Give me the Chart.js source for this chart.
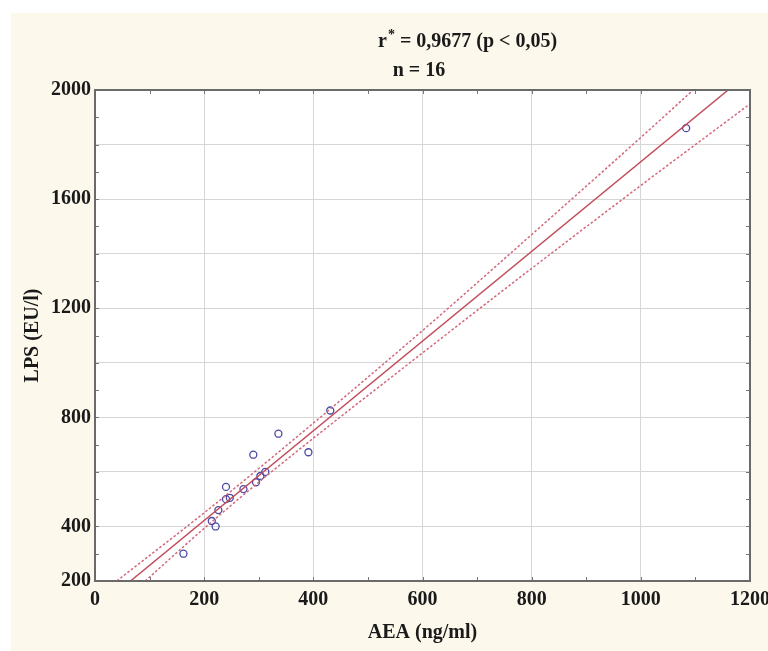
<!DOCTYPE html>
<html>
<head>
<meta charset="utf-8">
<script src="https://cdn.jsdelivr.net/npm/chart.js@4/dist/chart.umd.min.js"></script>
<style>
  html, body { margin: 0; padding: 0; background: #ffffff; }
  #wrap { width: 768px; height: 651px; }
</style>
</head>
<body>
<div id="wrap"><canvas id="chart" width="768" height="651"></canvas></div>
<script>
// values
const aea = [162, 214, 221, 226, 240, 240, 247, 272, 290, 295, 303, 312, 336, 391, 431, 1083];
const lps = [300, 420, 400, 460, 545, 500, 505, 537, 663, 562, 585, 600, 740, 672, 825, 1860];

// regression line (end points where it meets the frame)
const fitX = [65, 1160];
const fitY = [200, 2000];

// dotted confidence band, read at a few places along each curve
const upperX = [40, 200, 330, 600, 800, 1000, 1096];
const upperY = [200, 450, 662, 1118, 1470, 1826, 2000];
const lowerX = [92, 200, 330, 600, 800, 1000, 1200];
const lowerY = [200, 393, 611, 1036, 1346, 1650, 1949];

const xLabels = [0, 200, 400, 600, 800, 1000, 1200];
const yLabels = [200, 400, 800, 1200, 1600, 2000];

const FONT = "'Liberation Serif', 'DejaVu Serif', serif";

const toPoints = (xs, ys) => xs.map((x, i) => ({ x: x, y: ys[i] }));

const paperBg = {
    id: "paperBg",
    beforeDraw(chart) {
        const { ctx, chartArea: a } = chart;
        ctx.save();
        ctx.fillStyle = "#ffffff";
        ctx.fillRect(0, 0, chart.width, chart.height);
        ctx.fillStyle = "#fcf8ec";
        ctx.fillRect(11, 13, chart.width - 11, chart.height - 13);
        ctx.fillStyle = "#ffffff";
        ctx.fillRect(a.left, a.top, a.right - a.left, a.bottom - a.top);
        ctx.restore();
    },
};

const frame = {
    id: "frame",
    afterDraw(chart) {
        const { ctx, chartArea: a, scales } = chart;
        ctx.save();
        // little inward ticks every 100
        ctx.strokeStyle = "#777777";
        ctx.lineWidth = 1;
        ctx.beginPath();
        scales.x.ticks.forEach(t => {
            const px = Math.round(scales.x.getPixelForValue(t.value)) + 0.5;
            ctx.moveTo(px, a.bottom); ctx.lineTo(px, a.bottom - 4);
            ctx.moveTo(px, a.top); ctx.lineTo(px, a.top + 4);
        });
        scales.y.ticks.forEach(t => {
            const py = Math.round(scales.y.getPixelForValue(t.value)) + 0.5;
            ctx.moveTo(a.left, py); ctx.lineTo(a.left + 4, py);
            ctx.moveTo(a.right, py); ctx.lineTo(a.right - 4, py);
        });
        ctx.stroke();
        ctx.strokeStyle = "#6a6a6a";
        ctx.lineWidth = 2;
        ctx.strokeRect(a.left, a.top, a.right - a.left, a.bottom - a.top);

        // header
        ctx.fillStyle = "#1a1a1a";
        ctx.textBaseline = "middle";
        ctx.textAlign = "left";
        ctx.font = "bold 20px " + FONT;
        let x = 378;
        ctx.fillText("r", x, 42);
        x += ctx.measureText("r").width + 1;
        ctx.font = "bold 14px " + FONT;
        ctx.fillText("*", x, 35);
        x += ctx.measureText("*").width;
        ctx.font = "bold 20px " + FONT;
        ctx.fillText(" = 0,9677 (p < 0,05)", x, 42);
        ctx.textAlign = "center";
        ctx.fillText("n = 16", 419, 71);
        ctx.restore();
    },
};

const bandStyle = {
    showLine: true,
    borderColor: "#d2687a",
    borderWidth: 1.5,
    borderDash: [2.5, 2],
    pointRadius: 0,
    cubicInterpolationMode: "monotone",
};

new Chart(document.getElementById("chart"), {
    type: "scatter",
    data: {
        datasets: [
            Object.assign({ label: "upper", data: toPoints(upperX, upperY) }, bandStyle),
            Object.assign({ label: "lower", data: toPoints(lowerX, lowerY) }, bandStyle),
            {
                label: "fit",
                data: toPoints(fitX, fitY),
                showLine: true,
                borderColor: "#c24c5a",
                borderWidth: 1.5,
                pointRadius: 0,
            },
            {
                label: "LPS",
                data: toPoints(aea, lps),
                pointStyle: "circle",
                pointRadius: 3.5,
                pointBorderWidth: 1.3,
                borderColor: "#4a48a8",
                backgroundColor: "rgba(0,0,0,0)",
            },
        ],
    },
    options: {
        responsive: false,
        animation: false,
        devicePixelRatio: 1,
        layout: { padding: { top: 90, right: 18, bottom: 0, left: 0 } },
        plugins: { legend: { display: false }, tooltip: { enabled: false } },
        scales: {
            x: {
                type: "linear",
                min: 0,
                max: 1200,
                afterFit: (s) => { s.height = 70; s.paddingLeft = 0; s.paddingRight = 0; },
                border: { display: false },
                grid: {
                    drawTicks: false,
                    color: (c) => (c.tick.value % 200 === 0 ? "#d6d6d6" : "rgba(0,0,0,0)"),
                },
                ticks: {
                    stepSize: 100,
                    autoSkip: false,
                    maxRotation: 0,
                    padding: 7,
                    color: "#1a1a1a",
                    font: { family: FONT, size: 20, weight: "bold" },
                    callback: (v) => (xLabels.includes(v) ? String(v) : ""),
                },
                title: {
                    display: true,
                    text: "AEA (ng/ml)",
                    color: "#1a1a1a",
                    font: { family: FONT, size: 20, weight: "bold" },
                    padding: { top: 0, bottom: 6 },
                },
            },
            y: {
                type: "linear",
                min: 200,
                max: 2000,
                afterFit: (s) => { s.width = 95; s.paddingTop = 0; s.paddingBottom = 0; },
                border: { display: false },
                grid: {
                    drawTicks: false,
                    color: (c) => (c.tick.value % 200 === 0 ? "#d6d6d6" : "rgba(0,0,0,0)"),
                },
                ticks: {
                    stepSize: 100,
                    autoSkip: false,
                    padding: 4,
                    color: "#1a1a1a",
                    font: { family: FONT, size: 20, weight: "bold" },
                    callback: (v) => (yLabels.includes(v) ? String(v) : ""),
                },
                title: {
                    display: true,
                    text: "LPS (EU/l)",
                    color: "#1a1a1a",
                    font: { family: FONT, size: 20, weight: "bold" },
                    padding: { top: 21, bottom: 0 },
                },
            },
        },
    },
    plugins: [paperBg, frame],
});
</script>
</body>
</html>
